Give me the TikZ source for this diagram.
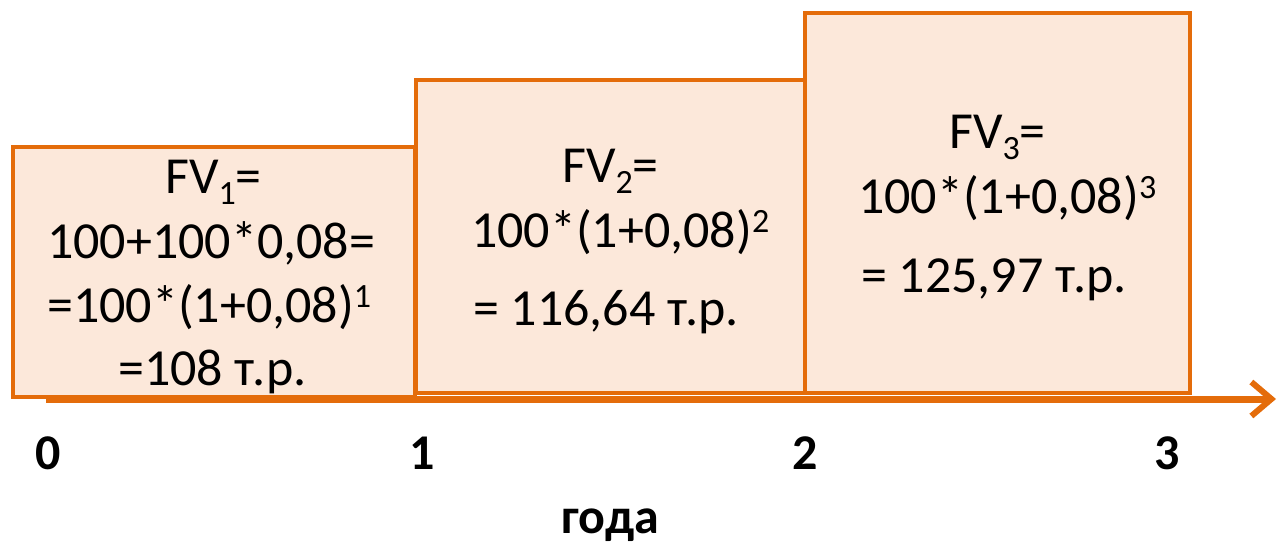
\documentclass[tikz,border=0pt]{standalone}
\usepackage{fontspec}
\setmainfont{Carlito}
\usetikzlibrary{arrows.meta}
\definecolor{orng}{RGB}{228,108,10}
\definecolor{peach}{RGB}{252,232,218}
\newcommand{\mysub}[1]{\raisebox{-11pt}{\fontsize{34}{34}\selectfont #1}}
\newcommand{\mysup}[1]{\raisebox{15pt}{\fontsize{34}{34}\selectfont #1}}
\begin{document}
\begin{tikzpicture}[x=1pt,y=-1pt,
  bar/.style={draw=orng,fill=peach,line width=4pt},
  txt/.style={anchor=base west,inner sep=0pt,font=\fontsize{52}{62}\selectfont},
  yr/.style={anchor=base,inner sep=0pt,font=\fontsize{50}{60}\selectfont\bfseries},
  axis/.style={draw=orng,line width=7pt,-{Straight Barb[length=20pt,width=34pt,line width=6pt]}}]
\useasboundingbox (0,0) rectangle (1281,543);
% bars
\draw[bar] (13,147) rectangle (415,397);
\draw[bar] (416,80) rectangle (805,393);
\draw[bar] (805,13) rectangle (1190,393);
% axis
\coordinate (a0) at (46,399);
\coordinate (a1) at (1276,399);
\draw[axis] (a0) -- (a1);
% box 1 text
\node[txt] (t11) at (165,193) {FV\mysub{1}=};
\node[txt] (t12) at (47,258) {100+100*0,08=};
\node[txt] (t13) at (47,322) {=100*(1+0,08)\mysup{1}};
\node[txt] (t14) at (118,385) {=108 т.р.};
% box 2 text
\node[txt] (t21) at (562,182) {FV\mysub{2}=};
\node[txt] (t22) at (471,247) {100*(1+0,08)\mysup{2}};
\node[txt] (t23) at (473,325) {= 116,64 т.р.};
% box 3 text
\node[txt] (t31) at (949,148) {FV\mysub{3}=};
\node[txt] (t32) at (858,213) {100*(1+0,08)\mysup{3}};
\node[txt] (t33) at (861,292) {= 125,97 т.р.};
% year labels
\node[yr] (y0) at (48,469) {0};
\node[yr] (y1) at (422,469) {1};
\node[yr] (y2) at (805,469) {2};
\node[yr] (y3) at (1167,469) {3};
\node[yr] (ylab) at (610,533) {года};
\end{tikzpicture}
\end{document}
